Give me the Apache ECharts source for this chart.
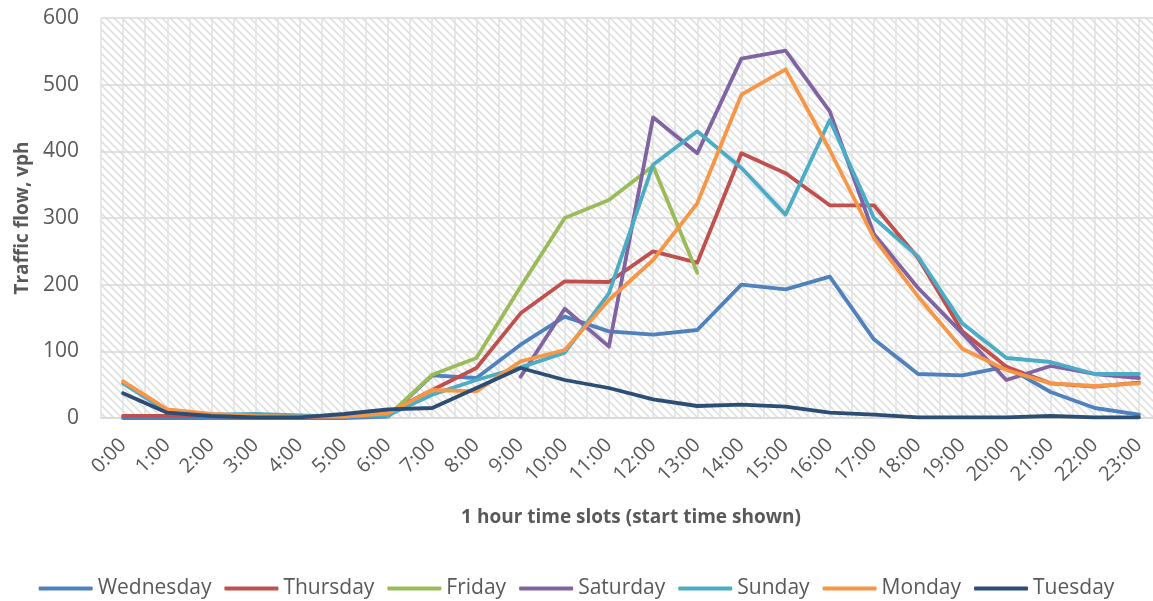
<!DOCTYPE html>
<html style="height: 100%">

<head>
  <meta charset="utf-8">
</head>

<body style="height: 100%; margin: 0; background: #fff">
  <div id="container" style="width: 1153px; height: 601px"></div>
  <script type="text/javascript" src="https://cdn.jsdelivr.net/npm/echarts@6/dist/echarts.min.js"></script>
  <script type="text/javascript">
    // hourly traffic flow (vph)
    var hours = ['0:00', '1:00', '2:00', '3:00', '4:00', '5:00', '6:00', '7:00', '8:00', '9:00', '10:00', '11:00',
      '12:00', '13:00', '14:00', '15:00', '16:00', '17:00', '18:00', '19:00', '20:00', '21:00', '22:00', '23:00'];
    var dayNames = ['Wednesday', 'Thursday', 'Friday', 'Saturday', 'Sunday', 'Monday', 'Tuesday'];
    var wednesday = [0, 0, 0, 0, 0, 0, 2, 64, 60, 110, 152, 130, 125, 132, 200, 193, 212, 118, 66, 64, 77, 39, 15, 5];
    var thursday = [3, 3, 3, 2, 2, 2, 8, 42, 75, 157, 205, 204, 250, 233, 397, 367, 319, 319, 240, 130, 77, 52, 47, 53];
    var friday = [null, null, null, null, null, null, 3, 65, 90, 197, 300, 327, 378, 218,
      null, null, null, null, null, null, null, null, null, null];
    var saturday = [null, null, null, null, null, null, null, null, null, 62, 164, 107, 451, 397, 539, 551, 460, 276,
      195, 127, 57, 78, 66, 60];
    var sunday = [52, 10, 5, 6, 4, 2, 4, 35, 57, 76, 98, 187, 380, 430, 375, 305, 447, 300, 242, 142, 90, 84, 66, 66];
    var monday = [55, 13, 6, 3, 2, 2, 7, 42, 40, 85, 102, 177, 237, 322, 485, 523, 402, 270, 182, 104, 72, 52, 48, 52];
    var tuesday = [37, 8, 3, 1, 1, 6, 13, 15, 45, 75, 57, 45, 28, 18, 20, 17, 8, 5, 1, 1, 1, 3, 1, 1];
    var yTicks = [0, 100, 200, 300, 400, 500, 600];

    var dayData = [wednesday, thursday, friday, saturday, sunday, monday, tuesday];
    var colors = ['#4f81bd', '#c0504d', '#9bbb59', '#8064a2', '#4bacc6', '#f79646', '#2c4d75'];

    // diagonal hatch for the plot area
    var pat = document.createElement('canvas');
    pat.width = 8;
    pat.height = 8;
    var ctx = pat.getContext('2d');
    ctx.fillStyle = '#ffffff';
    ctx.fillRect(0, 0, 8, 8);
    ctx.strokeStyle = '#e0e0e0';
    ctx.lineWidth = 1.6;
    for (var k = -1; k <= 1; k++) {
      ctx.beginPath();
      ctx.moveTo(-2, -2 + 8 * k);
      ctx.lineTo(10, 10 + 8 * k);
      ctx.stroke();
    }

    // half-slot positions for the vertical grid lines
    var halfSlots = [];
    for (var i = 0; i < hours.length * 2; i++) halfSlots.push('');

    var dom = document.getElementById("container");
    var myChart = echarts.init(dom);
    var textColor = '#595959';
    var font = 'Open Sans';

    var series = dayNames.map(function (name, idx) {
      return {
        name: name,
        type: 'line',
        data: dayData[idx],
        showSymbol: false,
        symbol: 'none',
        connectNulls: false,
        color: colors[idx],
        lineStyle: { width: 3.8, cap: 'round', join: 'round' }
      };
    });

    var option = {
      animation: false,
      textStyle: { fontFamily: font },
      grid: {
        left: 101,
        top: 18,
        width: 1060,
        height: 400,
        show: true,
        borderWidth: 0,
        backgroundColor: { image: pat, repeat: 'repeat' },
        containLabel: false,
        outerBoundsMode: 'none'
      },
      legend: {
        data: dayNames,
        left: 'center',
        top: 573,
        icon: 'roundRect',
        itemWidth: 54,
        itemHeight: 4,
        itemGap: 13,
        textStyle: { color: textColor, fontSize: 21, fontFamily: font }
      },
      xAxis: [{
        type: 'category',
        data: hours,
        boundaryGap: true,
        name: '1 hour time slots (start time shown)',
        nameLocation: 'middle',
        nameGap: 90,
        nameTextStyle: { color: textColor, fontSize: 19, fontWeight: 'bold', fontFamily: font },
        axisLine: { show: true, lineStyle: { color: '#d9d9d9', width: 1.5 } },
        axisTick: { show: false },
        axisLabel: { rotate: 45, interval: 0, margin: 24, color: textColor, fontSize: 20, fontFamily: font },
        splitLine: { show: false }
      }, {
        type: 'category',
        data: halfSlots,
        boundaryGap: true,
        position: 'bottom',
        axisLine: { show: false },
        axisTick: { show: false, interval: 0 },
        axisLabel: { show: false, interval: 0 },
        splitLine: { show: true, interval: 0, lineStyle: { color: '#e0e0e0', width: 1.5 } }
      }],
      yAxis: {
        type: 'value',
        min: yTicks[0],
        max: yTicks[yTicks.length - 1],
        interval: 100,
        name: 'Traffic flow, vph',
        nameLocation: 'middle',
        nameGap: 68,
        nameTextStyle: { color: textColor, fontSize: 19, fontWeight: 'bold', fontFamily: font },
        axisLine: { show: false },
        axisTick: { show: false },
        axisLabel: { margin: 22, color: textColor, fontSize: 21, fontFamily: font },
        splitLine: { show: true, lineStyle: { color: '#d9d9d9', width: 1.5 } }
      },
      series: series
    };

    myChart.setOption(option);
  </script>
</body>

</html>
